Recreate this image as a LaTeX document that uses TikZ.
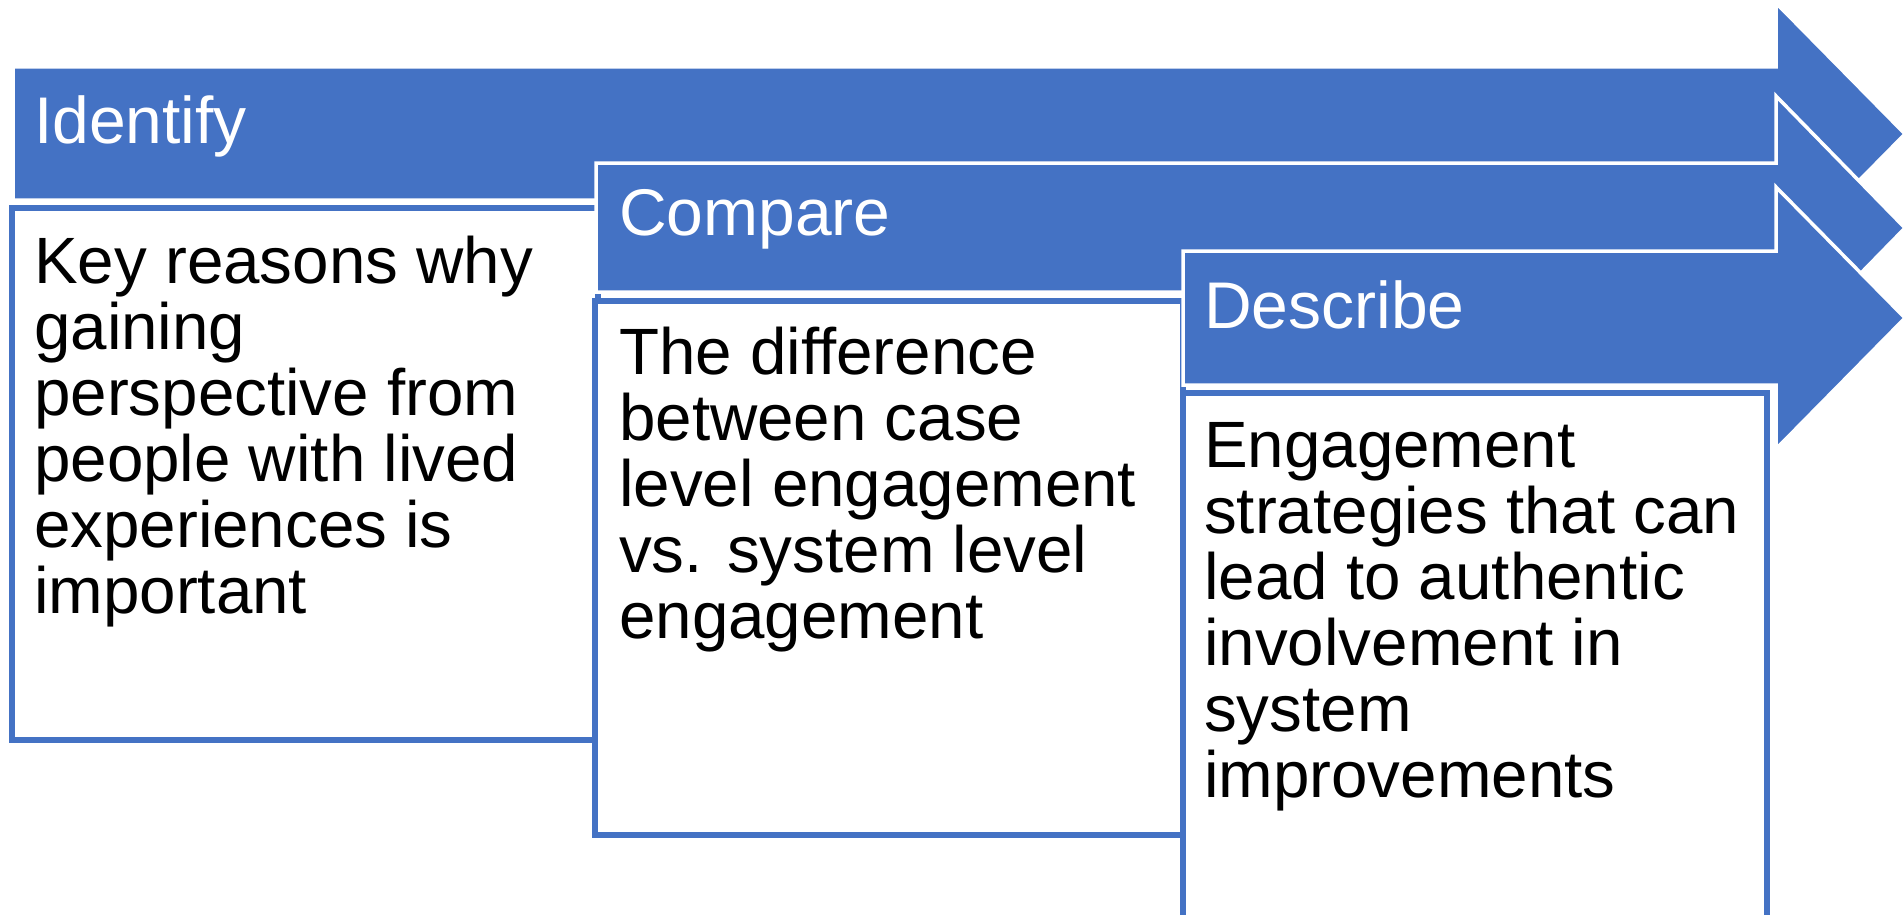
\documentclass[tikz,border=0pt]{standalone}
\usepackage{fontspec}
\setmainfont{Liberation Sans}
\definecolor{ablue}{HTML}{4472C4}
\begin{document}
\begin{tikzpicture}[x=1pt,y=-1pt,
  arrowshape/.style={fill=ablue, draw=white, line width=3.5pt, line join=miter},
  boxshape/.style={fill=white, draw=ablue, line width=5.5pt},
  headtext/.style={anchor=base west, inner sep=0pt, text=white, font=\fontsize{66}{66}\selectfont},
  bodytext/.style={anchor=base west, inner sep=0pt, text=black, font=\fontsize{65.5}{66}\selectfont}]
\useasboundingbox (0,0) rectangle (1903,915);
\clip (0,0) rectangle (1903,915);
% stage 1
\draw[arrowshape] (13,67) -- (1776,67) -- (1776,3) -- (1905,134) -- (1776,265) -- (1776,200) -- (13,200) -- cycle;
\node[headtext] (h1) at (34,143) {Identify};
\draw[boxshape] (12,208) rectangle (598,740);
\node[bodytext] (t1) at (34,283) {\parbox[t]{560pt}{\raggedright Key reasons why\\gaining\\perspective from\\people with lived\\experiences is\\important}};
% stage 2
\draw[arrowshape] (596,163) -- (1776,163) -- (1776,96) -- (1905,228) -- (1776,360) -- (1776,292) -- (596,292) -- cycle;
\node[headtext] (h2) at (619,235) {Compare};
\draw[boxshape] (595,301) rectangle (1183,835);
\node[bodytext] (t2) at (619,374) {\parbox[t]{560pt}{\raggedright The difference\\between case\\level engagement\\vs. system level\\engagement}};
% stage 3
\draw[arrowshape] (1183,251) -- (1776,251) -- (1776,187) -- (1905,318) -- (1776,449) -- (1776,385) -- (1183,385) -- cycle;
\node[headtext] (h3) at (1204,328) {Describe};
\draw[boxshape] (1183,393) rectangle (1767,940);
\node[bodytext] (t3) at (1204,467) {\parbox[t]{560pt}{\raggedright Engagement\\strategies that can\\lead to authentic\\involvement in\\system\\improvements}};
\end{tikzpicture}
\end{document}
